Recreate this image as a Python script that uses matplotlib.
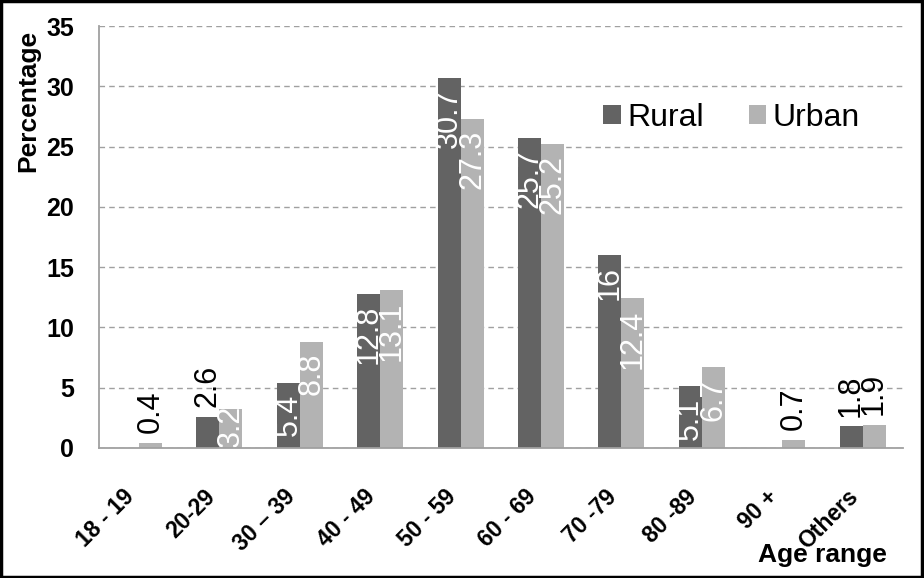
import matplotlib.pyplot as plt
import numpy as np
from matplotlib.patches import Rectangle

plt.rcParams['font.family'] = ['Liberation Sans', 'DejaVu Sans']

# Data
age_groups = ['18 - 19', '20-29', '30 \u2013 39', '40 - 49', '50 - 59',
              '60 - 69', '70 -79', '80 -89', '90 +', 'Others']
rural = [0, 2.6, 5.4, 12.8, 30.7, 25.7, 16, 5.1, 0, 1.8]
urban = [0.4, 3.2, 8.8, 13.1, 27.3, 25.2, 12.4, 6.7, 0.7, 1.9]
rural_labels = ['', '2.6', '5.4', '12.8', '30.7', '25.7', '16', '5.1', '', '1.8']
urban_labels = ['0.4', '3.2', '8.8', '13.1', '27.3', '25.2', '12.4', '6.7', '0.7', '1.9']
# where each label sits: inside the top of the bar, at its base, or above it
rural_pos = ['', 'out', 'in', 'in', 'in', 'in', 'in', 'in', '', 'out']
urban_pos = ['out', 'base', 'in', 'in', 'in', 'in', 'in', 'in', 'out', 'out']

rural_color = '#636363'
urban_color = '#b3b3b3'

fig = plt.figure(figsize=(9.24, 5.78), dpi=100)
ax = fig.add_axes([0.107, 0.225, 0.87, 0.730])

x = np.arange(len(age_groups))
w = 0.286
ax.bar(x - w / 2, rural, w, color=rural_color, label='Rural', zorder=2)
ax.bar(x + w / 2, urban, w, color=urban_color, label='Urban', zorder=2)


def add_labels(xs, vals, labels, positions):
    for xi, v, lab, pos in zip(xs, vals, labels, positions):
        if not lab:
            continue
        if pos == 'in':
            ax.annotate(lab, (xi, v), xytext=(0, -8), textcoords='offset points',
                        rotation=90, ha='center', va='top', color='white',
                        fontsize=22, zorder=3)
        elif pos == 'base':
            ax.annotate(lab, (xi, 0), xytext=(0, 1), textcoords='offset points',
                        rotation=90, ha='center', va='bottom', color='white',
                        fontsize=22, zorder=3)
        else:
            ax.annotate(lab, (xi, v), xytext=(0, 7), textcoords='offset points',
                        rotation=90, ha='center', va='bottom', color='black',
                        fontsize=22, zorder=3)


add_labels(x - w / 2, rural, rural_labels, rural_pos)
add_labels(x + w / 2, urban, urban_labels, urban_pos)

ax.set_xlim(-0.5, len(age_groups) - 0.5)
ax.set_ylim(0, 35)
ax.set_yticks(range(0, 36, 5))
ax.set_xticks(x)
ax.set_xticklabels(age_groups, rotation=45, ha='right', va='top',
                   fontsize=16.5, fontweight='bold')
for lab in ax.get_yticklabels():
    lab.set_fontsize(18)
    lab.set_fontweight('bold')
ax.tick_params(axis='y', length=0, pad=18)
ax.tick_params(axis='x', length=0, pad=27)

ax.yaxis.grid(True, linestyle=(0, (4, 3)), color='#a0a0a0', linewidth=1, zorder=0)
ax.set_axisbelow(True)
for side in ['top', 'right']:
    ax.spines[side].set_visible(False)
for side in ['left', 'bottom']:
    ax.spines[side].set_color('#a0a0a0')
    ax.spines[side].set_linewidth(1.3)
ax.spines['bottom'].set_zorder(4)

ax.legend(loc='center', bbox_to_anchor=(0.787, 0.782), ncol=2, frameon=False,
          fontsize=23, handlelength=0.55, handleheight=0.55, handletextpad=0.2,
          columnspacing=1.4)

fig.text(28 / 924, 1 - 101 / 578, 'Percentage', rotation=90, ha='center',
         va='center', fontsize=19, fontweight='bold')
fig.text(822 / 924, 1 - 555 / 578, 'Age range', ha='center', va='center',
         fontsize=19, fontweight='bold')

# border round the figure
fig.patches.append(Rectangle((0.001, 0.001), 0.997, 0.997, transform=fig.transFigure,
                             fill=False, edgecolor='black', linewidth=2.5))

fig.savefig('out.png', dpi=100)
